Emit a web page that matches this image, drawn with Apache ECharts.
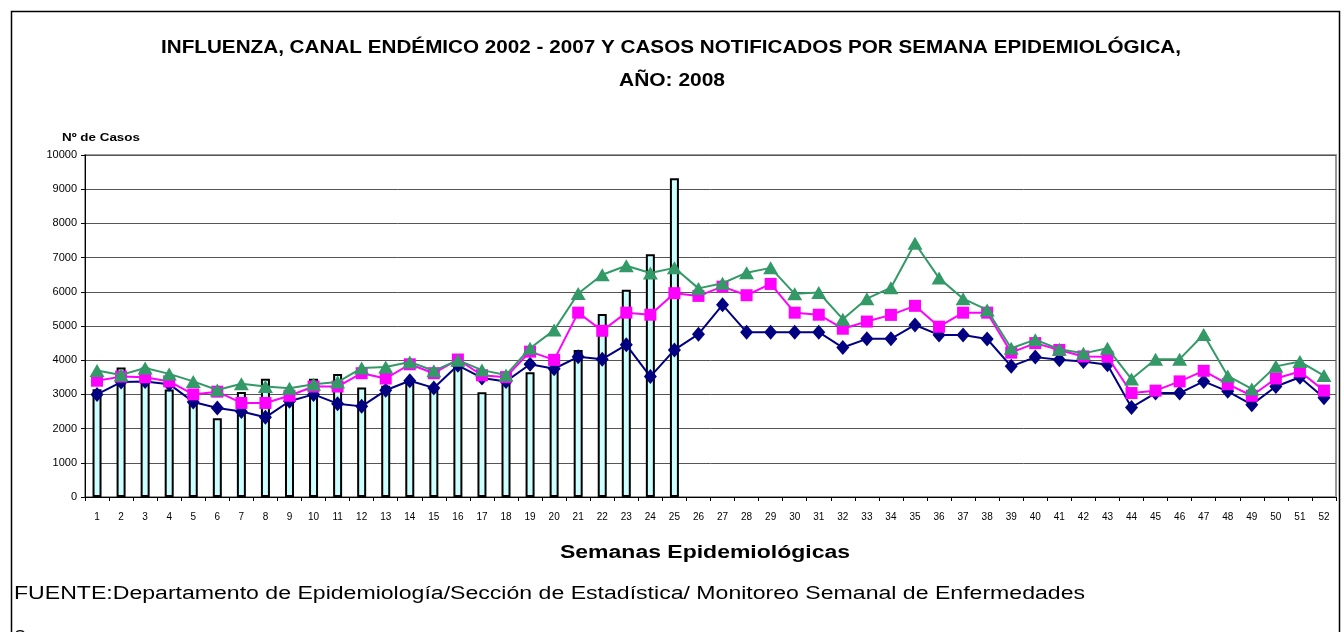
<!DOCTYPE html>
<html>
<head>
<meta charset="utf-8">
<script src="https://cdn.jsdelivr.net/npm/echarts@6/dist/echarts.min.js"></script>
<style>
  html, body { margin: 0; padding: 0; background: #fff; }
  #chart { width: 1344px; height: 632px; }
</style>
</head>
<body>
<div id="chart"></div>
<script>
// semanas epidemiologicas 1..52
let semanas = [];
for (let i = 1; i <= 52; i++) semanas.push(String(i));

// casos notificados 2008 (solo hasta la semana 25)
let casos2008 = [3150, 3790, 3780, 3140, 2800, 2300, 3070, 3460, 2850, 3460,
  3600, 3200, 3250, 3350, 3200, 3900, 3060, 3400, 3650, 3800,
  4300, 5350, 6060, 7100, 9320];

// canal endemico: zona de seguridad (azul), mediana (rosa), zona de alerta (verde)
let seguridad = [3000, 3360, 3380, 3300, 2780, 2600, 2500, 2330, 2800, 3000,
  2730, 2650, 3120, 3400, 3190, 3850, 3480, 3380, 3880, 3750,
  4100, 4030, 4450, 3520, 4300, 4760, 5620, 4820, 4820, 4820,
  4820, 4370, 4625, 4625, 5030, 4740, 4740, 4620, 3820, 4090,
  4010, 3960, 3870, 2620, 3040, 3040, 3380, 3090, 2700, 3230,
  3500, 2900];
let mediana = [3400, 3520, 3500, 3380, 3000, 3080, 2750, 2750, 2960, 3230,
  3230, 3620, 3465, 3880, 3620, 4020, 3560, 3505, 4250, 4010,
  5390, 4860, 5390, 5330, 5960, 5880, 6150, 5900, 6230, 5390,
  5330, 4920, 5130, 5325, 5590, 4980, 5390, 5390, 4220, 4500,
  4300, 4110, 4100, 3040, 3110, 3380, 3690, 3300, 2960, 3465,
  3670, 3110];
let alerta = [3700, 3570, 3770, 3600, 3380, 3130, 3310, 3230, 3180, 3300,
  3360, 3770, 3800, 3950, 3690, 4000, 3710, 3570, 4350, 4880,
  5950, 6500, 6760, 6550, 6700, 6100, 6250, 6560, 6700, 5940,
  5980, 5200, 5800, 6120, 7420, 6400, 5800, 5470, 4350, 4600,
  4320, 4200, 4350, 3450, 4030, 4030, 4750, 3540, 3160, 3820,
  3960, 3550];

let yTicks = [0, 1000, 2000, 3000, 4000, 5000, 6000, 7000, 8000, 9000, 10000];

let FONT = "Liberation Sans, Arial, sans-serif";

/*escala horizontal para que el texto ocupe el ancho deseado*/
let ctx = document.createElement("canvas").getContext("2d");
function fitScale(text, font, width) {
  ctx.font = font;
  return width / ctx.measureText(text).width;
}

function texto(str, x, y, size, bold, width, align) {
  let font = (bold ? "bold " : "") + size + "px " + FONT;
  return {
    type: "text",
    x: x,
    y: y,
    scaleX: fitScale(str, font, width),
    silent: true,
    style: {
      text: str,
      x: 0,
      y: 0,
      font: font,
      fill: "#000",
      textAlign: align,
      textVerticalAlign: "middle"
    }
  };
}

let titulo1 = "INFLUENZA, CANAL ENDÉMICO 2002 - 2007 Y CASOS NOTIFICADOS POR SEMANA EPIDEMIOLÓGICA,";
let titulo2 = "AÑO: 2008";
let fuente = "FUENTE:Departamento de Epidemiología/Sección de Estadística/ Monitoreo Semanal de Enfermedades";

let myChart = echarts.init(document.getElementById("chart"));

let option = {
  backgroundColor: "#fff",
  animation: false,
  textStyle: {fontFamily: FONT},
  graphic: [{
    type: "rect",
    shape: {x: 11.5, y: 11.5, width: 1328, height: 640},
    style: {fill: null, stroke: "#000", lineWidth: 1.5},
    silent: true
  },
    texto(titulo1, 671, 48, 19, true, 1020, "center"),
    texto(titulo2, 672, 81, 19, true, 106, "center"),
    texto("Nº de Casos", 62, 138, 11, true, 78, "left"),
    texto("Semanas Epidemiológicas", 705, 553, 18, true, 290, "center"),
    texto(fuente, 14, 594, 18, false, 1071, "left"),
    texto("S", 14, 638, 18, false, 12, "left")
  ],
  grid: {
    left: 85,
    right: 8,
    top: 155,
    bottom: 135,
    show: true,
    borderColor: "#999",
    borderWidth: 2
  },
  xAxis: {
    type: "category",
    data: semanas,
    axisLine: {lineStyle: {color: "#000", width: 1}},
    axisTick: {show: true, length: 4, lineStyle: {color: "#000"}},
    axisLabel: {fontSize: 10, color: "#000", interval: 0, margin: 15}
  },
  yAxis: {
    type: "value",
    min: 0,
    max: 10000,
    interval: 1000,
    axisLine: {show: true, lineStyle: {color: "#000", width: 1}},
    axisTick: {show: true, length: 4, lineStyle: {color: "#000"}},
    axisLabel: {fontSize: 11, color: "#000", margin: 8,
      formatter: function (v) { return yTicks.indexOf(v) >= 0 ? String(v) : ""; }},
    splitLine: {show: true, lineStyle: {color: "#555", width: 1}}
  },
  series: [{
    name: "Casos 2008",
    type: "bar",
    data: casos2008,
    barWidth: 9,
    itemStyle: {color: "#CCFFFF", borderColor: "#000", borderWidth: 2},
    z: 2
  }, {
    name: "Seguridad",
    type: "line",
    data: seguridad,
    symbol: "diamond",
    symbolSize: [13, 15],
    itemStyle: {color: "#000080"},
    lineStyle: {color: "#000080", width: 2},
    z: 3
  }, {
    name: "Mediana",
    type: "line",
    data: mediana,
    symbol: "rect",
    symbolSize: 12,
    itemStyle: {color: "#FF00FF"},
    lineStyle: {color: "#FF00FF", width: 2},
    z: 4
  }, {
    name: "Alerta",
    type: "line",
    data: alerta,
    symbol: "triangle",
    symbolSize: [15, 13],
    itemStyle: {color: "#339966"},
    lineStyle: {color: "#339966", width: 2},
    z: 5
  }]
};

myChart.setOption(option);
</script>
</body>
</html>
